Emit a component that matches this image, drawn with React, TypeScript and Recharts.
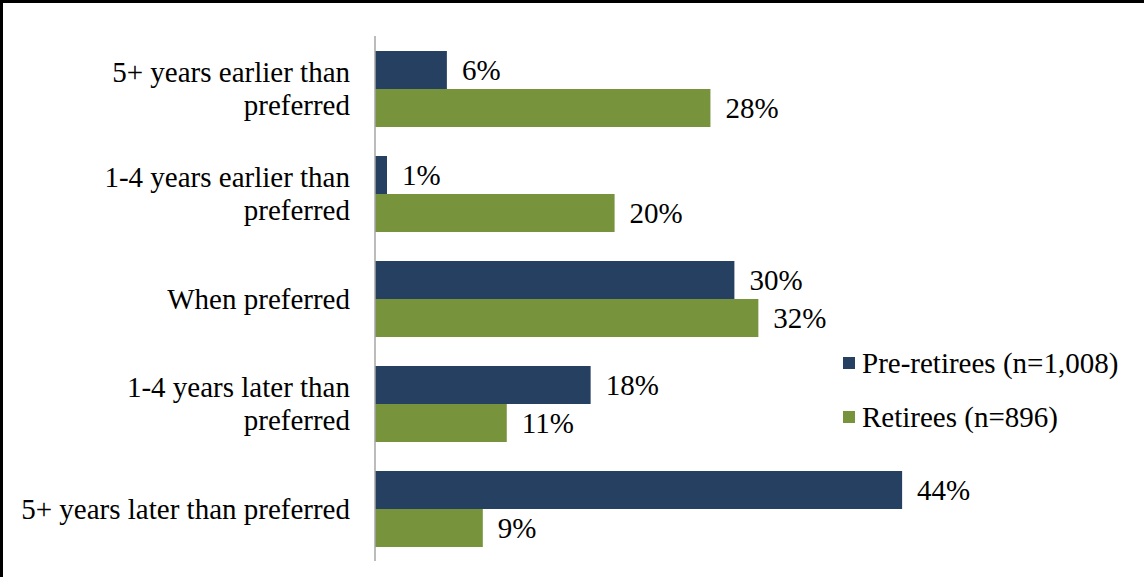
import { BarChart, Bar, XAxis, YAxis, LabelList } from "recharts";

const categories = [
  "5+ years earlier than\npreferred",
  "1-4 years earlier than\npreferred",
  "When preferred",
  "1-4 years later than\npreferred",
  "5+ years later than preferred",
];
const preRetirees = [6, 1, 30, 18, 44];
const retirees = [28, 20, 32, 11, 9];
const seriesNames = ["Pre-retirees (n=1,008)", "Retirees (n=896)"];

const NAVY = "#264061";
const GREEN = "#77933C";
const FONT = "'Liberation Serif', 'Times New Roman', serif";

const data = categories.map((c, i) => ({
  category: c,
  pre: preRetirees[i],
  ret: retirees[i],
}));

function CategoryTick(props: any) {
  const { y, payload } = props;
  const lines = String(payload.value).split("\n");
  const lh = 33;
  const start = -((lines.length - 1) * lh) / 2;
  return (
    <text
      x={350}
      y={y}
      textAnchor="end"
      fontFamily={FONT}
      fontSize={29}
      fill="#000"
    >
      {lines.map((l, i) => (
        <tspan key={i} x={350} y={y + start + i * lh} dy="0.35em">
          {l}
        </tspan>
      ))}
    </text>
  );
}

function ChartLegend() {
  const colors = [NAVY, GREEN];
  return (
    <div
      style={{
        position: "absolute",
        left: 843,
        top: 336,
        fontFamily: FONT,
        fontSize: 29,
        color: "#000",
      }}
    >
      {seriesNames.map((n, i) => (
        <div
          key={n}
          style={{ display: "flex", alignItems: "center", height: 54 }}
        >
          <span
            style={{
              display: "inline-block",
              width: 12,
              height: 12,
              background: colors[i],
              marginRight: 7,
            }}
          />
          <span>{n}</span>
        </div>
      ))}
    </div>
  );
}

export default function App() {
  return (
    <div
      style={{
        position: "fixed",
        left: 0,
        top: 0,
        width: 1144,
        height: 577,
        background: "#fff",
      }}
    >
      <div
        style={{
          position: "absolute",
          left: 0,
          top: 0,
          width: 1144,
          height: 577,
          borderTop: "3px solid #000",
          borderLeft: "3px solid #000",
          boxSizing: "border-box",
        }}
      />
      <div style={{ position: "absolute", left: 0, top: 0 }}>
        <BarChart
          width={1144}
          height={577}
          data={data}
          layout="vertical"
          margin={{ top: 36, right: 170, bottom: 16, left: 0 }}
          barCategoryGap={15}
          barGap={0}
        >
          <XAxis type="number" domain={[0, 50]} hide />
          <YAxis
            type="category"
            dataKey="category"
            width={375}
            tick={<CategoryTick />}
            tickLine={false}
            axisLine={{ stroke: "#A6A6A6", strokeWidth: 1.5 }}
            interval={0}
          />
          <Bar dataKey="pre" name={seriesNames[0]} fill={NAVY} isAnimationActive={false}>
            <LabelList
              dataKey="pre"
              position="right"
              offset={15}
              formatter={(v: any) => `${v}%`}
              style={{ fontFamily: FONT, fontSize: 29, fill: "#000" }}
            />
          </Bar>
          <Bar dataKey="ret" name={seriesNames[1]} fill={GREEN} isAnimationActive={false}>
            <LabelList
              dataKey="ret"
              position="right"
              offset={15}
              formatter={(v: any) => `${v}%`}
              style={{ fontFamily: FONT, fontSize: 29, fill: "#000" }}
            />
          </Bar>
        </BarChart>
      </div>
      <ChartLegend />
    </div>
  );
}
